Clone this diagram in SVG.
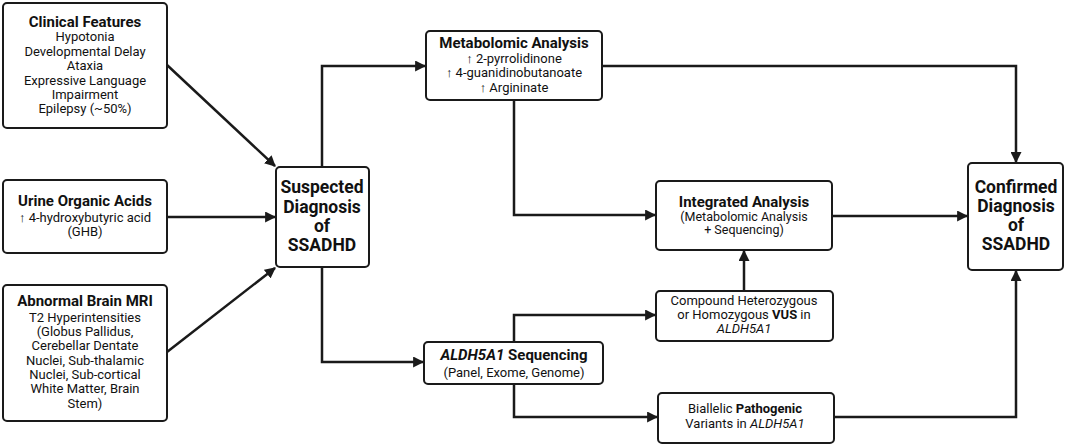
<svg xmlns="http://www.w3.org/2000/svg" width="1065" height="446" viewBox="0 0 1065 446">
<style>
.box{fill:#fff;stroke:#1a1a1a;stroke-width:2}
.ln{fill:none;stroke:#1a1a1a;stroke-width:2.5;marker-end:url(#ah)}
text{font-family:Roboto,"Liberation Sans",sans-serif;fill:#111;text-anchor:middle}
.t{font-size:15px;font-weight:bold}
.b{font-size:13px}
.s{font-size:12.5px}
.big{font-size:17.5px;font-weight:bold}
.bo{font-weight:bold}
.it{font-style:italic}
</style>
<defs>
<marker id="ah" viewBox="0 0 10 10" refX="9" refY="5" markerWidth="4.4" markerHeight="4.4" orient="auto" markerUnits="strokeWidth">
<path d="M0,0 L10,5 L0,10 z" fill="#1a1a1a"/>
</marker>
</defs>
<rect width="1065" height="446" fill="#fff"/>
<g id="connectors">
<path class="ln" d="M167,65 L275,166"/>
<path class="ln" d="M167,217 L275,217"/>
<path class="ln" d="M167,352 L275,268"/>
<path class="ln" d="M322,167 L322,66 L425,66"/>
<path class="ln" d="M322,267 L322,362 L423,362"/>
<path class="ln" d="M602,66 L1016,66 L1016,162"/>
<path class="ln" d="M514,100 L514,215 L655,215"/>
<path class="ln" d="M832,216 L967,216"/>
<path class="ln" d="M744,291 L744,251"/>
<path class="ln" d="M514,342 L514,315 L655,315"/>
<path class="ln" d="M514,384 L514,417 L657,417"/>
<path class="ln" d="M834,417 L1016,417 L1016,271"/>
</g>
<g id="clinical">
<rect class="box" x="3" y="3" width="164" height="125" rx="4"/>
<text class="t" x="85" y="27">Clinical Features</text>
<text class="b" x="85" y="41">Hypotonia</text>
<text class="b" x="85" y="56">Developmental Delay</text>
<text class="b" x="85" y="70">Ataxia</text>
<text class="b" x="85" y="85">Expressive Language</text>
<text class="b" x="85" y="99">Impairment</text>
<text class="b" x="85" y="113">Epilepsy (~50%)</text>
</g>
<g id="urine">
<rect class="box" x="3" y="180" width="164" height="73" rx="4"/>
<text class="t" x="85" y="206">Urine Organic Acids</text>
<text class="b" x="85" y="222">↑ 4-hydroxybutyric acid</text>
<text class="b" x="85" y="236">(GHB)</text>
</g>
<g id="mri">
<rect class="box" x="3" y="285" width="164" height="136" rx="4"/>
<text class="t" x="85" y="306">Abnormal Brain MRI</text>
<text class="b" x="85" y="322">T2 Hyperintensities</text>
<text class="b" x="85" y="336">(Globus Pallidus,</text>
<text class="b" x="85" y="350">Cerebellar Dentate</text>
<text class="b" x="85" y="365">Nuclei, Sub-thalamic</text>
<text class="b" x="85" y="379">Nuclei, Sub-cortical</text>
<text class="b" x="85" y="393">White Matter, Brain</text>
<text class="b" x="85" y="408">Stem)</text>
</g>
<g id="suspected">
<rect class="box" x="276" y="167" width="93" height="100" rx="4"/>
<text class="big" x="322" y="193">Suspected</text>
<text class="big" x="322" y="213">Diagnosis</text>
<text class="big" x="322" y="232">of</text>
<text class="big" x="322" y="251">SSADHD</text>
</g>
<g id="metabolomic">
<rect class="box" x="426" y="31" width="176" height="69" rx="4"/>
<text class="t" x="514" y="48">Metabolomic Analysis</text>
<text class="b" x="514" y="63">↑ 2-pyrrolidinone</text>
<text class="b" x="514" y="77">↑ 4-guanidinobutanoate</text>
<text class="b" x="514" y="92">↑ Argininate</text>
</g>
<g id="sequencing">
<rect class="box" x="424" y="342" width="179" height="42" rx="4"/>
<text class="t" x="514" y="360"><tspan class="it">ALDH5A1</tspan> Sequencing</text>
<text class="b" x="514" y="377">(Panel, Exome, Genome)</text>
</g>
<g id="integrated">
<rect class="box" x="656" y="181" width="176" height="69" rx="4"/>
<text class="t" x="744" y="207">Integrated Analysis</text>
<text class="s" x="744" y="221">(Metabolomic Analysis</text>
<text class="s" x="744" y="234">+ Sequencing)</text>
</g>
<g id="vus">
<rect class="box" x="656" y="291" width="177" height="50" rx="4"/>
<text class="b" x="744" y="305">Compound Heterozygous</text>
<text class="b" x="744" y="319">or Homozygous <tspan class="bo">VUS</tspan> in</text>
<text class="b it" x="744" y="333">ALDH5A1</text>
</g>
<g id="biallelic">
<rect class="box" x="658" y="393" width="176" height="50" rx="4"/>
<text class="b" x="745" y="413">Biallelic <tspan class="bo">Pathogenic</tspan></text>
<text class="b" x="745" y="428">Variants in <tspan class="it">ALDH5A1</tspan></text>
</g>
<g id="confirmed">
<rect class="box" x="968" y="163" width="95" height="107" rx="4"/>
<text class="big" x="1016" y="193">Confirmed</text>
<text class="big" x="1016" y="212">Diagnosis</text>
<text class="big" x="1016" y="231">of</text>
<text class="big" x="1016" y="250">SSADHD</text>
</g>
</svg>
